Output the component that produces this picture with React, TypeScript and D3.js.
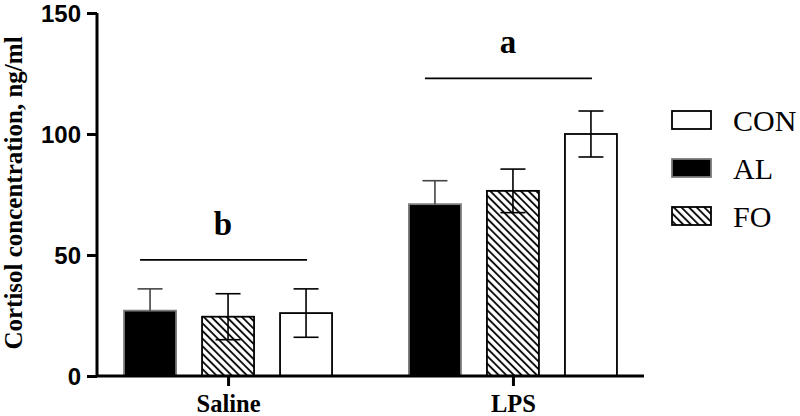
import React, { useEffect, useRef } from 'react'
import * as d3 from 'd3'

// data
const groups = ['Saline', 'LPS']
const series = ['AL', 'FO', 'CON']
const means: number[][] = [
  [27, 24.5, 26],
  [71, 76.5, 100],
]
const errors: number[][] = [
  [9, 9.5, 10],
  [9.7, 9, 9.5],
]
const yTicks = [0, 50, 100, 150]
const legendOrder = ['CON', 'AL', 'FO']
// significance letters drawn above each group
const sigLetters = [
  { group: 0, level: 48, letter: 'b' },
  { group: 1, level: 123, letter: 'a' },
]

const W = 800
const H = 416

export default function App() {
  const ref = useRef<SVGSVGElement>(null)

  useEffect(() => {
    const svg = d3.select(ref.current)
    svg.selectAll('*').remove()

    const margin = { left: 97, top: 13 }
    const plotRight = 644

    const y = d3.scaleLinear().domain([0, 150]).range([376, margin.top])
    const x0 = d3.scalePoint().domain(groups).range([margin.left, plotRight]).padding(0.46)
    const x1 = d3.scaleBand().domain(series).range([-104, 104]).paddingInner(1 / 3).paddingOuter(0)

    const defs = svg.append('defs')
    const pat = defs.append('pattern')
      .attr('id', 'hatch')
      .attr('patternUnits', 'userSpaceOnUse')
      .attr('width', 5.4)
      .attr('height', 5.4)
      .attr('patternTransform', 'rotate(-45)')
    pat.append('rect').attr('width', 5.4).attr('height', 5.4).attr('fill', 'white')
    pat.append('line')
      .attr('x1', 1).attr('x2', 1).attr('y1', 0).attr('y2', 5.4)
      .attr('stroke', 'black').attr('stroke-width', 1.8)

    const fillFor = (s: string) => (s === 'AL' ? 'black' : s === 'FO' ? 'url(#hatch)' : 'white')
    const strokeFor = (s: string) => (s === 'AL' ? '#7a7a7a' : 'black')

    // bars + error bars
    const g = svg.append('g')
    groups.forEach((grp, gi) => {
      series.forEach((s, si) => {
        const bx = x0(grp)! + x1(s)!
        const v = means[gi][si]
        const e = errors[gi][si]
        g.append('rect')
          .attr('x', bx)
          .attr('y', y(v))
          .attr('width', x1.bandwidth())
          .attr('height', y(0) - y(v))
          .attr('fill', fillFor(s))
          .attr('stroke', strokeFor(s))
          .attr('stroke-width', 1.8)
        const cx = bx + x1.bandwidth() / 2
        const ec = s === 'AL' ? '#444' : 'black'
        const lo = s === 'AL' ? v : v - e
        g.append('line')
          .attr('x1', cx).attr('x2', cx)
          .attr('y1', y(v + e)).attr('y2', y(lo))
          .attr('stroke', ec).attr('stroke-width', 1.6)
        g.append('line')
          .attr('x1', cx - 12.5).attr('x2', cx + 12.5)
          .attr('y1', y(v + e)).attr('y2', y(v + e))
          .attr('stroke', ec).attr('stroke-width', 1.6)
        if (s !== 'AL') {
          g.append('line')
            .attr('x1', cx - 12.5).attr('x2', cx + 12.5)
            .attr('y1', y(v - e)).attr('y2', y(v - e))
            .attr('stroke', ec).attr('stroke-width', 1.6)
        }
      })
    })

    // significance lines
    sigLetters.forEach(d => {
      const c = x0(groups[d.group])!
      const left = c - 88
      const right = c + 79
      svg.append('line')
        .attr('x1', left).attr('x2', right)
        .attr('y1', y(d.level)).attr('y2', y(d.level))
        .attr('stroke', 'black').attr('stroke-width', 1.6)
      svg.append('text')
        .attr('x', c - 5)
        .attr('y', y(d.level) - 25)
        .attr('text-anchor', 'middle')
        .attr('font-family', '"Liberation Serif", "Times New Roman", serif')
        .attr('font-weight', 'bold')
        .attr('font-size', 33)
        .text(d.letter)
    })

    // y axis
    const yAxis = svg.append('g')
      .attr('transform', `translate(${margin.left},0)`)
      .call(d3.axisLeft(y).tickValues(yTicks).tickSize(10).tickPadding(6))
    yAxis.select('.domain').attr('stroke-width', 3).attr('d', `M0,${y(150)}V${y(0)}`)
    yAxis.selectAll('.tick line').attr('stroke-width', 3)
    yAxis.selectAll('.tick text')
      .attr('font-family', '"Liberation Sans", Arial, sans-serif')
      .attr('font-weight', 'bold')
      .attr('font-size', 24)
      .attr('dy', '0.34em')
      .attr('fill', 'black')

    // x axis
    const xAxis = svg.append('g')
      .attr('transform', `translate(0,${y(0)})`)
      .call(d3.axisBottom(x0).tickSize(10).tickPadding(9))
    xAxis.select('.domain').attr('stroke-width', 3).attr('d', `M${margin.left},0H${plotRight}`)
    xAxis.selectAll('.tick line').attr('stroke-width', 3)
    xAxis.selectAll('.tick text')
      .attr('font-family', '"Liberation Serif", "Times New Roman", serif')
      .attr('font-weight', 'bold')
      .attr('font-size', 24.5)
      .attr('fill', 'black')

    // y title
    svg.append('text')
      .attr('transform', `translate(22,193) rotate(-90)`)
      .attr('text-anchor', 'middle')
      .attr('font-family', '"Liberation Serif", "Times New Roman", serif')
      .attr('font-weight', 'bold')
      .attr('font-size', 25)
      .text('Cortisol concentration, ng/ml')

    // legend
    const legend = svg.append('g').attr('transform', 'translate(672,111)')
    legendOrder.forEach((s, i) => {
      const row = legend.append('g').attr('transform', `translate(0,${i * 48})`)
      row.append('rect')
        .attr('width', 39).attr('height', 18)
        .attr('fill', fillFor(s))
        .attr('stroke', strokeFor(s))
        .attr('stroke-width', 1.8)
      row.append('text')
        .attr('x', 61).attr('y', 20)
        .attr('font-family', '"Liberation Serif", "Times New Roman", serif')
        .attr('font-size', 30)
        .text(s)
    })
  }, [])

  return <svg ref={ref} width={W} height={H} style={{ display: 'block', position: 'absolute', left: 0, top: 0 }} />
}
